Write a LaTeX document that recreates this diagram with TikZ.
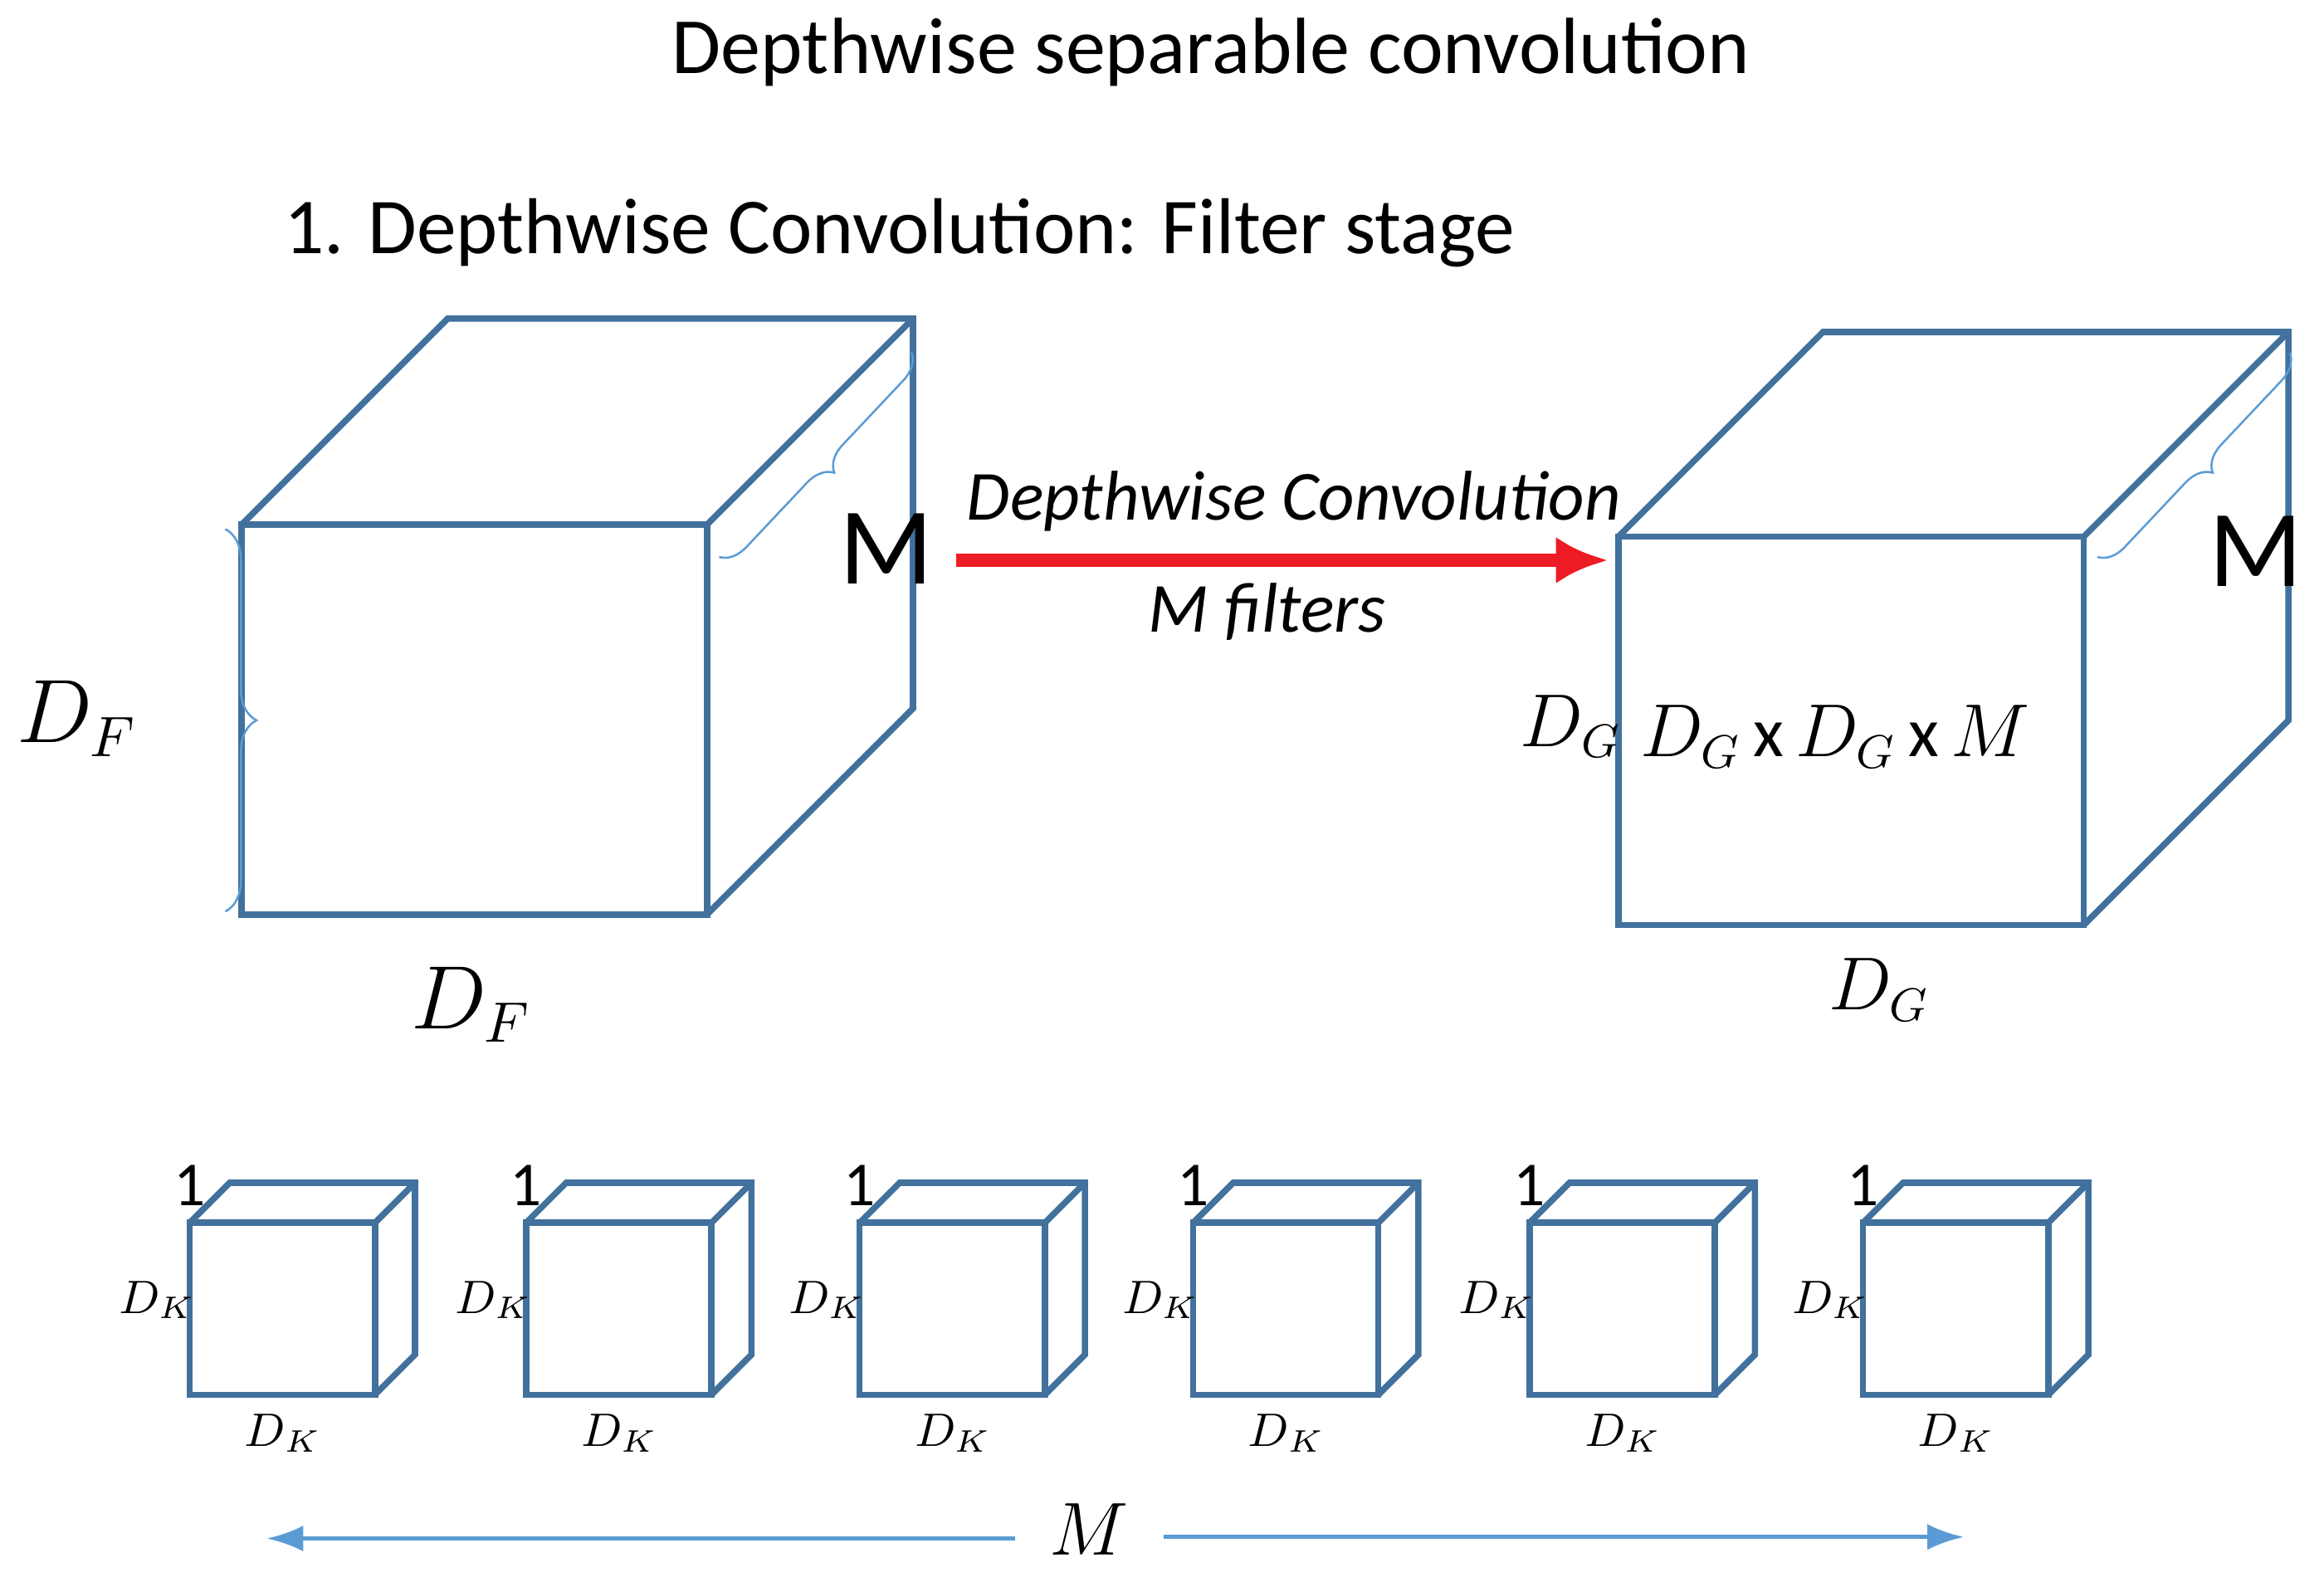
\documentclass[tikz,border=0pt]{standalone}
\usepackage{fontspec}
\setmainfont{Carlito}
\usetikzlibrary{decorations.pathreplacing,arrows.meta}
\definecolor{cubeblue}{RGB}{65,113,156}
\definecolor{braceblue}{RGB}{91,155,213}
\definecolor{arrowred}{RGB}{237,28,36}
\newcommand{\boxcube}[5]{% x, y (front bottom-left), width, height, depth
  \draw[cube] (#1,#2) rectangle ++(#3,#4);
  \draw[cube] (#1,#2) ++(0,#4) -- ++(#5,-#5) -- ++(#3,0) -- ++(0,-#4) -- ++(-#5,#5);
  \draw[cube] (#1+#3,#2+#4) -- ++(#5,-#5);
}
\begin{document}
\begin{tikzpicture}[x=0.01cm, y=-0.01cm,
    cube/.style={cubeblue, line width=1.2pt},
    thinbrace/.style={braceblue, thin, decorate},
    big/.style={font=\fontsize{16}{19}\selectfont},
    mid/.style={font=\fontsize{13.5}{16}\selectfont},
    bigm/.style={font=\fontsize{21}{25}\selectfont},
    small/.style={font=\fontsize{9}{11}\selectfont},
    every node/.style={inner sep=0pt}
  ]
  \useasboundingbox (0,0) rectangle (1568,1067);

  % titles
  \node[font=\fontsize{15.3}{18}\selectfont] (title) at (817,35) {Depthwise separable convolution};
  \node[font=\fontsize{15.2}{18}\selectfont] (stage) at (607,157) {1. Depthwise Convolution: Filter stage};

  % input cube
  \boxcube{163}{617}{314}{-263}{139}
  \draw[thinbrace, decoration={brace, amplitude=6pt, aspect=0.5}] (152,357) -- (152,615);
  \draw[thinbrace, decoration={brace, amplitude=5pt}] (615,238) -- (485,376);
  \node[big] (dfl) at (52,485) {$D_F$};
  \node[big] (dfb) at (318,678) {$D_F$};
  \node[bigm] (min) at (598,370) {M};

  % arrow
  \coordinate (a1) at (645,378);
  \coordinate (a2) at (1085,378);
  \draw[arrowred, line width=2.5pt, -{Latex[length=10pt,width=9pt]}] (a1) -- (a2);
  \node[font=\fontsize{13.5}{16}\selectfont\itshape] (conv) at (873,338) {Depthwise Convolution};
  \node[font=\fontsize{13.5}{16}\selectfont\itshape] (filt) at (855,413) {M filters};

  % output cube
  \boxcube{1092}{624}{314}{-262}{138}
  \draw[thinbrace, decoration={brace, amplitude=5pt}] (1545,238) -- (1415,376);
  \node[mid] (dgl) at (1060,490) {$D_G$};
  \node[mid] (dgb) at (1268,668) {$D_G$};
  \node[mid] (dgx) at (1238,497) {$D_G$\,x\,$D_G$\,x\,$M$};
  \node[bigm] (mout) at (1522,372) {M};

  % filters
  \foreach \x [count=\i] in {128,355,580,805,1032,1257} {
    \boxcube{\x}{941}{125}{-116}{27}
    \node[font=\fontsize{12}{14}\selectfont] (one\i) at (\x,800) {1};
    \node[small] (dkl\i) at (\x-22,877) {$D_K$};
    \node[small] (dkb\i) at (\x+63,967) {$D_K$};
  }

  % M span
  \node[mid] (mspan) at (735,1032) {$M$};
  \coordinate (ls) at (685,1038);
  \coordinate (l) at (180,1038);
  \coordinate (rs) at (785,1037);
  \coordinate (r) at (1325,1037);
  \draw[braceblue, line width=0.8pt, -{Latex[length=7pt,width=5pt]}] (ls) -- (l);
  \draw[braceblue, line width=0.8pt, -{Latex[length=7pt,width=5pt]}] (rs) -- (r);
\end{tikzpicture}
\end{document}
